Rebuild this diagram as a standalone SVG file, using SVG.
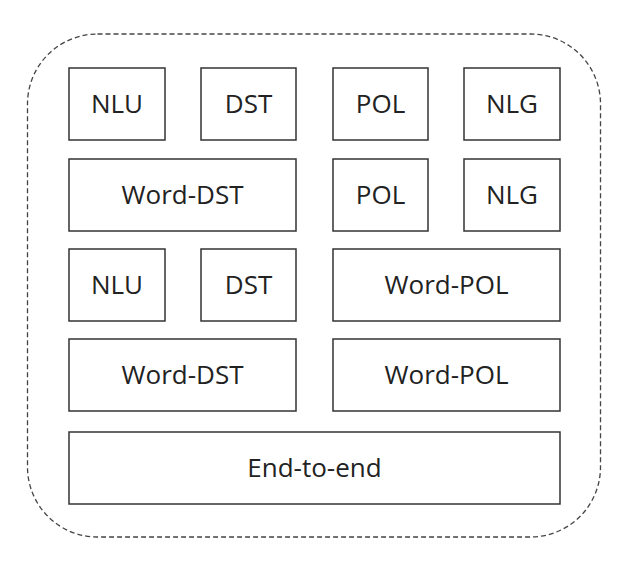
<svg xmlns="http://www.w3.org/2000/svg" width="620" height="569" viewBox="0 0 620 569">
<style>
.box{fill:#fff;stroke:#333;stroke-width:1.5}
.lbl{font-family:"Open Sans","Liberation Sans",sans-serif;font-size:26px;fill:#222;text-anchor:middle}
.outer{fill:none;stroke:#444;stroke-width:1.3;stroke-dasharray:5,3}
</style>
<rect width="620" height="569" fill="#fff"/>
<rect id="container" class="outer" x="27.5" y="34" width="573" height="503" rx="70" ry="70"/>
<g id="n-nlu1"><rect class="box" x="69" y="68" width="96" height="72"/><text class="lbl" x="117" y="113">NLU</text></g>
<g id="n-dst1"><rect class="box" x="201" y="68" width="95" height="72"/><text class="lbl" x="248.5" y="113">DST</text></g>
<g id="n-pol1"><rect class="box" x="333" y="68" width="95" height="72"/><text class="lbl" x="380.5" y="113">POL</text></g>
<g id="n-nlg1"><rect class="box" x="464" y="68" width="96" height="72"/><text class="lbl" x="512" y="113">NLG</text></g>
<g id="n-worddst1"><rect class="box" x="69" y="159" width="227" height="72"/><text class="lbl" x="182.5" y="204">Word-DST</text></g>
<g id="n-pol2"><rect class="box" x="333" y="159" width="95" height="72"/><text class="lbl" x="380.5" y="204">POL</text></g>
<g id="n-nlg2"><rect class="box" x="464" y="159" width="96" height="72"/><text class="lbl" x="512" y="204">NLG</text></g>
<g id="n-nlu2"><rect class="box" x="69" y="249" width="96" height="72"/><text class="lbl" x="117" y="294">NLU</text></g>
<g id="n-dst2"><rect class="box" x="201" y="249" width="95" height="72"/><text class="lbl" x="248.5" y="294">DST</text></g>
<g id="n-wordpol1"><rect class="box" x="333" y="249" width="227" height="72"/><text class="lbl" x="446.5" y="294">Word-POL</text></g>
<g id="n-worddst2"><rect class="box" x="69" y="339" width="227" height="72"/><text class="lbl" x="182.5" y="384">Word-DST</text></g>
<g id="n-wordpol2"><rect class="box" x="333" y="339" width="227" height="72"/><text class="lbl" x="446.5" y="384">Word-POL</text></g>
<g id="n-e2e"><rect class="box" x="69" y="432" width="491" height="72"/><text class="lbl" x="314.5" y="477">End-to-end</text></g>
<g id="connectors"></g>
</svg>
